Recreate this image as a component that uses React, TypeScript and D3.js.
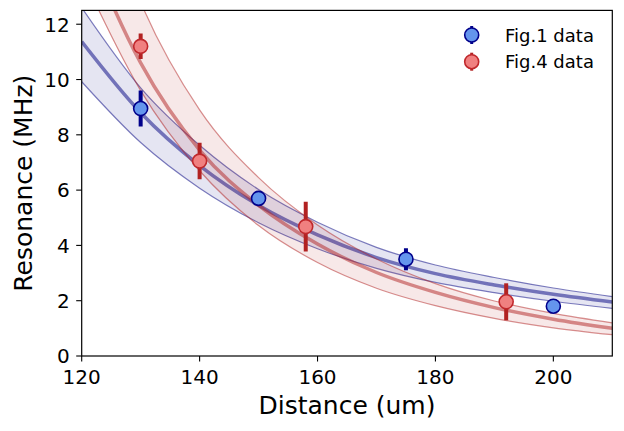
import { useEffect } from "react";
import * as d3 from "d3";

// fit curves at every 10 um
const fitDist = [120, 130, 140, 150, 160, 170, 180, 190, 200, 210];
const fig1Fit = [11.37, 8.8, 6.89, 5.45, 4.38, 3.56, 2.98, 2.57, 2.23, 1.95];
const fig1Upper = [12.6, 9.7, 7.62, 6.02, 4.84, 3.93, 3.29, 2.84, 2.46, 2.15];
const fig1Lower = [9.92, 7.72, 6.07, 4.82, 3.88, 3.17, 2.66, 2.29, 1.98, 1.72];
const fig4Fit = [15.3, 10.6, 7.45, 5.45, 4.05, 3.02, 2.3, 1.75, 1.33, 1.0];
const fig4Upper = [19.0, 12.8, 8.9, 6.45, 4.74, 3.51, 2.62, 1.99, 1.54, 1.2];
const fig4Lower = [13.8, 9.6, 6.7, 4.72, 3.38, 2.45, 1.82, 1.36, 1.02, 0.77];

// measured points
const fig1Dist = [130, 150, 175, 200];
const fig1Res = [8.95, 5.7, 3.5, 1.8];
const fig1Err = [0.65, 0.25, 0.4, 0.15];
const fig4Dist = [130, 140, 158, 192];
const fig4Res = [11.2, 7.05, 4.68, 1.96];
const fig4Err = [0.46, 0.66, 0.9, 0.67];

const xTicks = [120, 140, 160, 180, 200];
const yTicks = [0, 2, 4, 6, 8, 10, 12];

const series = [
  {
    name: "Fig.1 data",
    fit: fig1Fit,
    upper: fig1Upper,
    lower: fig1Lower,
    dist: fig1Dist,
    res: fig1Res,
    err: fig1Err,
    line: "#000080",
    fill: "#6495ed",
    edge: "#00008b",
    bar: "#00008b",
  },
  {
    name: "Fig.4 data",
    fit: fig4Fit,
    upper: fig4Upper,
    lower: fig4Lower,
    dist: fig4Dist,
    res: fig4Res,
    err: fig4Err,
    line: "#b22222",
    fill: "#f08080",
    edge: "#c0282c",
    bar: "#b22222",
  },
];

const App = () => {
  useEffect(() => {
    d3.select("#chart").select("svg").remove();

    const width = 624;
    const height = 431;
    const left = 81.7;
    const right = 612.3;
    const top = 10.4;
    const bottom = 356;
    const font = "DejaVu Sans, sans-serif";

    const svg = d3
      .select("#chart")
      .append("svg")
      .attr("width", width)
      .attr("height", height)
      .style("position", "absolute")
      .style("left", 0)
      .style("top", 0)
      .style("font-family", font);

    const x = d3.scaleLinear().domain([120, 210]).range([left, right]);
    const y = d3.scaleLinear().domain([0, 12.5]).range([bottom, top]);

    svg
      .append("defs")
      .append("clipPath")
      .attr("id", "plot-clip")
      .append("rect")
      .attr("x", left)
      .attr("y", top)
      .attr("width", right - left)
      .attr("height", bottom - top);

    const plot = svg.append("g").attr("clip-path", "url(#plot-clip)");

    const line = d3
      .line<number>()
      .x((_, i) => x(fitDist[i]))
      .y((d) => y(d))
      .curve(d3.curveMonotoneX);

    // bands and fit lines
    series.forEach((s) => {
      const area = d3
        .area<number>()
        .x((_, i) => x(fitDist[i]))
        .y0((_, i) => y(s.lower[i]))
        .y1((d) => y(d))
        .curve(d3.curveMonotoneX);

      plot
        .append("path")
        .attr("d", area(s.upper))
        .attr("fill", s.line)
        .attr("fill-opacity", 0.1);

      [s.upper, s.lower].forEach((b) => {
        plot
          .append("path")
          .attr("d", line(b))
          .attr("fill", "none")
          .attr("stroke", s.line)
          .attr("stroke-opacity", 0.5)
          .attr("stroke-width", 1.2);
      });

      plot
        .append("path")
        .attr("d", line(s.fit))
        .attr("fill", "none")
        .attr("stroke", s.line)
        .attr("stroke-opacity", 0.5)
        .attr("stroke-width", 3.5);
    });

    // error bars and markers
    series.forEach((s) => {
      s.dist.forEach((d, i) => {
        plot
          .append("line")
          .attr("x1", x(d))
          .attr("x2", x(d))
          .attr("y1", y(s.res[i] - s.err[i]))
          .attr("y2", y(s.res[i] + s.err[i]))
          .attr("stroke", s.bar)
          .attr("stroke-width", 4);
      });
      s.dist.forEach((d, i) => {
        plot
          .append("circle")
          .attr("cx", x(d))
          .attr("cy", y(s.res[i]))
          .attr("r", 7)
          .attr("fill", s.fill)
          .attr("stroke", s.edge)
          .attr("stroke-width", 1.6);
      });
    });

    // ticks
    const axis = svg.append("g");
    xTicks.forEach((t) => {
      axis
        .append("line")
        .attr("x1", x(t))
        .attr("x2", x(t))
        .attr("y1", bottom)
        .attr("y2", bottom + 5.5)
        .attr("stroke", "#000")
        .attr("stroke-width", 1.1);
      axis
        .append("text")
        .attr("x", x(t))
        .attr("y", bottom + 28)
        .attr("text-anchor", "middle")
        .attr("font-size", 20)
        .attr("fill", "#000")
        .text(t);
    });
    yTicks.forEach((t) => {
      axis
        .append("line")
        .attr("x1", left - 5.5)
        .attr("x2", left)
        .attr("y1", y(t))
        .attr("y2", y(t))
        .attr("stroke", "#000")
        .attr("stroke-width", 1.1);
      axis
        .append("text")
        .attr("x", left - 12)
        .attr("y", y(t) + 7.3)
        .attr("text-anchor", "end")
        .attr("font-size", 20)
        .attr("fill", "#000")
        .text(t);
    });

    // frame
    svg
      .append("rect")
      .attr("x", left)
      .attr("y", top)
      .attr("width", right - left)
      .attr("height", bottom - top)
      .attr("fill", "none")
      .attr("stroke", "#000")
      .attr("stroke-width", 1.2);

    // axis labels
    svg
      .append("text")
      .attr("x", (left + right) / 2)
      .attr("y", 414)
      .attr("text-anchor", "middle")
      .attr("font-size", 25)
      .text("Distance (um)");

    svg
      .append("text")
      .attr("transform", `translate(32,${(top + bottom) / 2}) rotate(-90)`)
      .attr("text-anchor", "middle")
      .attr("font-size", 25)
      .text("Resonance (MHz)");

    // legend
    const legend = svg.append("g");
    series.forEach((s, i) => {
      const ly = 35 + i * 26.7;
      legend
        .append("line")
        .attr("x1", 471.7)
        .attr("x2", 471.7)
        .attr("y1", ly - 9)
        .attr("y2", ly + 9)
        .attr("stroke", s.bar)
        .attr("stroke-width", 3);
      legend
        .append("circle")
        .attr("cx", 471.7)
        .attr("cy", ly)
        .attr("r", 7)
        .attr("fill", s.fill)
        .attr("stroke", s.edge)
        .attr("stroke-width", 1.6);
      legend
        .append("text")
        .attr("x", 505)
        .attr("y", ly + 6.5)
        .attr("font-size", 18)
        .text(s.name);
    });
  }, []);

  return <div id="chart"></div>;
};

export default App;
